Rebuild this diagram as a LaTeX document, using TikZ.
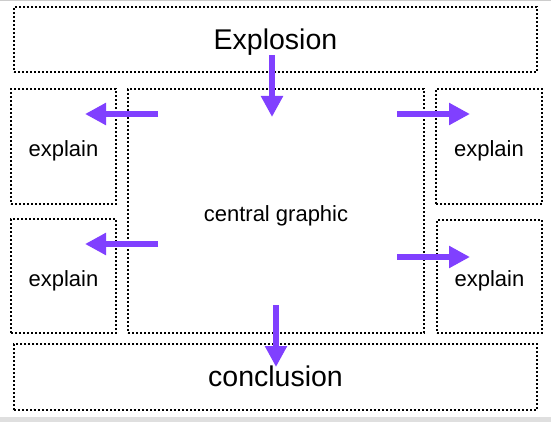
\documentclass[tikz,border=0pt]{standalone}
\usepackage{fontspec}
\setmainfont{Liberation Sans}
\usetikzlibrary{arrows.meta}
\definecolor{arrowpurple}{RGB}{128,64,255}

\begin{document}
\begin{tikzpicture}[x=1pt,y=-1pt,
    panel/.style={draw=black, line width=2pt, dash pattern=on 2pt off 2pt, inner sep=0pt},
    bigtext/.style={font=\fontsize{28.5}{30}\selectfont, text height=21pt, text depth=0pt},
    smalltext/.style={font=\fontsize{22}{24}\selectfont, text height=20pt, text depth=0pt},
    flow/.style={draw=arrowpurple, line width=5.5pt, -{Triangle[length=21pt,width=21pt]}}]
    \useasboundingbox (0,0) rectangle (551,422);
    % page edges
    \draw[gray!40, line width=1.5pt] (0,0.75) -- (551,0.75);
    \fill[gray!25] (0,417) rectangle (551,422);
%
    \node[panel, bigtext, minimum width=523pt, minimum height=65pt] (explosion) at (275.5,39.5) {Explosion};
    \node[panel, smalltext, minimum width=296pt, minimum height=244pt] (central) at (276,211) {central graphic};
    \node[panel, smalltext, minimum width=105pt, minimum height=115pt] (explainUL) at (63.5,146.5) {explain};
    \node[panel, smalltext, minimum width=105pt, minimum height=114pt] (explainLL) at (63.5,276) {explain};
    \node[panel, smalltext, minimum width=106pt, minimum height=115pt] (explainUR) at (489,146.5) {explain};
    \node[panel, smalltext, minimum width=105pt, minimum height=113pt] (explainLR) at (489.5,276.5) {explain};
    \node[panel, bigtext, text height=18pt, minimum width=523pt, minimum height=66pt] (conclusion) at (275.5,377) {conclusion};
%
    % arrow ends
    \coordinate (topFrom) at (272,55);
    \coordinate (topTo) at (272,117);
    \coordinate (ulFrom) at (158,114);
    \coordinate (ulTo) at (85,114);
    \coordinate (llFrom) at (158,244);
    \coordinate (llTo) at (85,244);
    \coordinate (urFrom) at (397,114);
    \coordinate (urTo) at (470,114);
    \coordinate (lrFrom) at (397,257);
    \coordinate (lrTo) at (470,257);
    \coordinate (botFrom) at (276,305);
    \coordinate (botTo) at (276,367);
%
    \draw[flow] (topFrom) -- (topTo);
    \draw[flow] (ulFrom) -- (ulTo);
    \draw[flow] (llFrom) -- (llTo);
    \draw[flow] (urFrom) -- (urTo);
    \draw[flow] (lrFrom) -- (lrTo);
    \draw[flow] (botFrom) -- (botTo);
\end{tikzpicture}
\end{document}
